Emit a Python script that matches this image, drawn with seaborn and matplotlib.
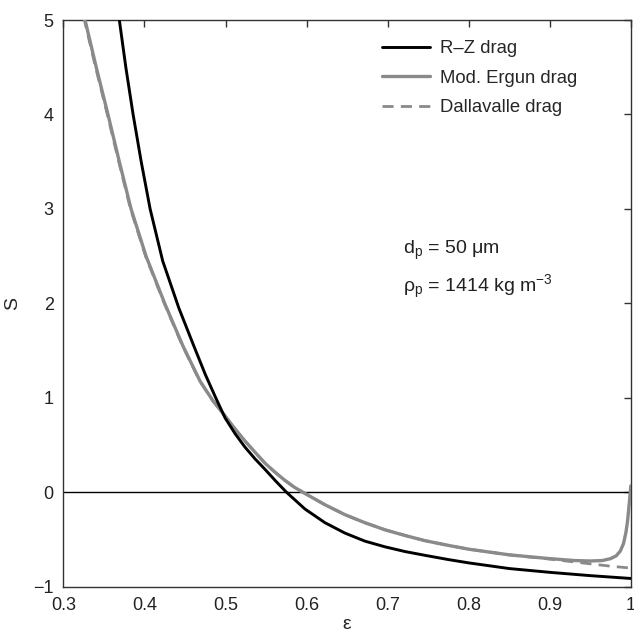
import numpy as np
import pandas as pd
import matplotlib
matplotlib.use("Agg")
import matplotlib.pyplot as plt
import seaborn as sns

# Stability parameter S versus voidage for three drag closures
eps_rz = [0.363, 0.369, 0.377, 0.386, 0.396, 0.407, 0.4225, 0.4425, 0.46, 0.475,
          0.4875, 0.4994, 0.512, 0.524, 0.5365, 0.5487, 0.562, 0.5755, 0.598,
          0.6227, 0.6474, 0.672, 0.6967, 0.7214, 0.746, 0.775, 0.8, 0.85, 0.9,
          0.95, 1.0]
s_rz = [5.38, 5.00, 4.50, 4.00, 3.50, 3.00, 2.45, 1.95, 1.57, 1.25,
        1.01, 0.79, 0.62, 0.48, 0.355, 0.245, 0.12, 0.00, -0.175,
        -0.32, -0.43, -0.515, -0.575, -0.625, -0.665, -0.71, -0.745, -0.805, -0.845,
        -0.88, -0.91]

eps_ergun = [0.322, 0.3267, 0.3405, 0.355, 0.369, 0.3835, 0.402, 0.425, 0.4475,
             0.4685, 0.4845, 0.4994, 0.512, 0.524, 0.5365, 0.5487, 0.561, 0.573,
             0.585, 0.598, 0.6227, 0.6474, 0.672, 0.6967, 0.7214, 0.746, 0.775,
             0.8, 0.85, 0.9, 0.93, 0.95, 0.965, 0.975, 0.982, 0.987, 0.991, 0.994,
             0.996, 0.998, 1.0]
s_ergun = [5.35, 5.00, 4.50, 4.00, 3.50, 3.00, 2.50, 2.00, 1.55,
           1.18, 0.97, 0.81, 0.67, 0.545, 0.425, 0.31, 0.215, 0.13,
           0.055, -0.01, -0.13, -0.235, -0.32, -0.395, -0.455, -0.51, -0.56,
           -0.60, -0.66, -0.70, -0.72, -0.725, -0.72, -0.70, -0.67, -0.62, -0.54, -0.42,
           -0.30, -0.12, 0.07]

eps_dalla = [0.321, 0.3259, 0.3397, 0.3542, 0.3683, 0.3828, 0.4014, 0.4245, 0.4471,
             0.4682, 0.4843, 0.4994, 0.512, 0.524, 0.5365, 0.5487, 0.561, 0.573,
             0.585, 0.598, 0.6227, 0.6474, 0.672, 0.6967, 0.7214, 0.746, 0.775,
             0.8, 0.85, 0.9, 0.93, 0.95, 0.975, 1.0]
s_dalla = [5.35, 5.00, 4.50, 4.00, 3.50, 3.00, 2.50, 2.00, 1.55,
           1.18, 0.97, 0.81, 0.67, 0.545, 0.425, 0.31, 0.215, 0.13,
           0.055, -0.01, -0.13, -0.235, -0.32, -0.395, -0.455, -0.51, -0.56,
           -0.60, -0.66, -0.705, -0.735, -0.755, -0.78, -0.80]

labels = ["R\u2013Z drag", "Mod. Ergun drag", "Dallavalle drag"]

x_ticks = [0.3, 0.4, 0.5, 0.6, 0.7, 0.8, 0.9, 1.0]
x_ticklabels = ["0.3", "0.4", "0.5", "0.6", "0.7", "0.8", "0.9", "1"]
y_ticks = [-1, 0, 1, 2, 3, 4, 5]
y_ticklabels = ["\u22121", "0", "1", "2", "3", "4", "5"]

df = pd.concat([
    pd.DataFrame({"eps": eps_rz, "S": s_rz, "model": labels[0]}),
    pd.DataFrame({"eps": eps_ergun, "S": s_ergun, "model": labels[1]}),
    pd.DataFrame({"eps": eps_dalla, "S": s_dalla, "model": labels[2]}),
], ignore_index=True)

sns.set_style("white")
plt.rcParams["font.family"] = ["Liberation Sans", "DejaVu Sans"]
plt.rcParams["mathtext.fontset"] = "custom"
plt.rcParams["mathtext.rm"] = "Liberation Sans"
plt.rcParams["mathtext.it"] = "Liberation Sans"

fig = plt.figure(figsize=(6.34, 6.33), dpi=100)
ax = fig.add_axes([0.1, 0.0727, 0.895, 0.8957])

grey = "#8a8a8a"
styles = {
    labels[0]: dict(color="black", lw=2.1, ls="-"),
    labels[1]: dict(color=grey, lw=2.4, ls="-"),
    labels[2]: dict(color=grey, lw=2.0, ls=(0, (4.0, 2.6))),
}
# dashed curve first so the solid grey one sits on top of it
for name in [labels[2], labels[1], labels[0]]:
    sub = df[df["model"] == name]
    st = styles[name]
    sns.lineplot(data=sub, x="eps", y="S", ax=ax, color=st["color"],
                 linewidth=st["lw"], linestyle=st["ls"], label=name,
                 estimator=None, sort=True, zorder=3)

ax.axhline(0, color="black", lw=1.0, zorder=2)

ax.set_xlim(0.3, 1.0)
ax.set_ylim(-1, 5)
ax.set_xticks(x_ticks)
ax.set_xticklabels(x_ticklabels)
ax.set_yticks(y_ticks)
ax.set_yticklabels(y_ticklabels)
ax.tick_params(direction="in", length=5, width=1, color="#333333",
               top=True, right=True, labelsize=13, pad=7, labelcolor="#222222")
for sp in ax.spines.values():
    sp.set_color("#333333")
    sp.set_linewidth(1.0)

ax.set_xlabel("\u03b5", fontsize=14)
ax.set_ylabel("S", fontsize=14)
ax.xaxis.set_label_coords(0.5, -0.052)
ax.yaxis.set_label_coords(-0.075, 0.5)

handles, labs = ax.get_legend_handles_labels()
order = [labs.index(l) for l in labels]
ax.legend([handles[i] for i in order], [labs[i] for i in order],
          loc="upper left", bbox_to_anchor=(382 / 634, 1 - 40 / 633),
          bbox_transform=fig.transFigure, frameon=False, borderpad=0,
          borderaxespad=0, fontsize=13.3, handlelength=2.6,
          handletextpad=0.55, labelspacing=0.68)

ax.text(0.719, 2.52, r"d$_\mathrm{p}$ = 50 μm", fontsize=14, color="#222222")
ax.text(0.719, 2.12, r"ρ$_\mathrm{p}$ = 1414 kg m$^{-3}$", fontsize=14, color="#222222")

fig.savefig("out.png", dpi=100)
